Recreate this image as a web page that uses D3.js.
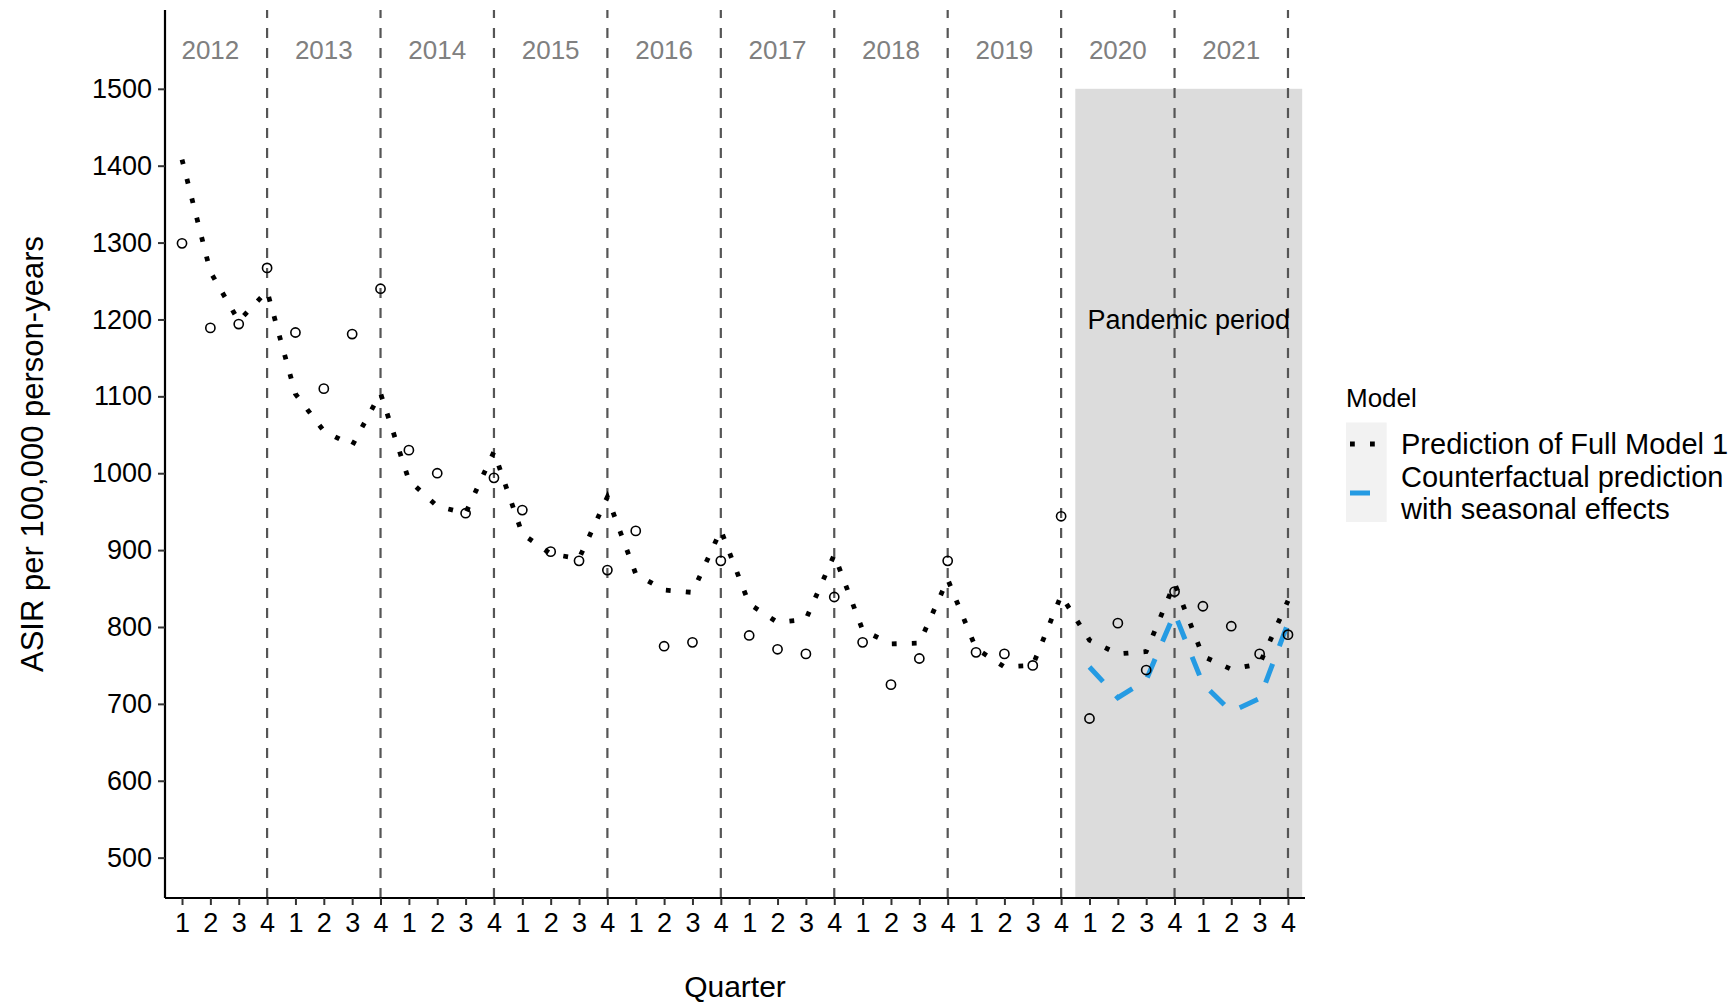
<!DOCTYPE html>
<html>
<head>
<meta charset="utf-8">
<script src="https://cdn.jsdelivr.net/npm/d3@7"></script>
<style>
  body { margin: 0; background: #ffffff; }
  text { font-family: 'Liberation Sans', Arial, sans-serif; }
</style>
</head>
<body>
<div id="chart"></div>
<script>
// Quarter index 1..40, labelled 1-4 within each year
const quarters = d3.range(1, 41);
const quarterLabels = ['1', '2', '3', '4'];
const years = ['2012', '2013', '2014', '2015', '2016', '2017', '2018', '2019', '2020', '2021'];
const yTicks = [500, 600, 700, 800, 900, 1000, 1100, 1200, 1300, 1400, 1500];

// Observed ASIR (open circles)
const observed = [1299, 1189, 1194, 1267, 1183, 1110, 1181, 1240,
  1030, 1000, 948, 994, 952, 898, 886, 874,
  925, 775, 780, 886, 789, 771, 765, 839,
  780, 725, 759, 886, 767, 765, 750, 944,
  681, 805, 744, 846, 827, 801, 765, 790];

// Prediction of Full Model 1 (dotted)
const fullModel = [1408, 1262, 1198, 1237, 1103, 1055, 1036, 1104,
  991, 957, 948, 1028, 921, 895, 889, 969,
  869, 848, 845, 926, 830, 806, 810, 894,
  796, 778, 779, 862, 772, 748, 750, 841,
  783, 765, 768, 857, 762, 745, 752, 834];

// Counterfactual prediction with seasonal effects, pandemic quarters 33..40
const cfQuarters = [33, 34, 35, 36, 37, 38, 39, 40];
const counterfactual = [748, 708, 731, 818, 726, 690, 707, 805];

const legendLabels = [['Prediction of Full Model 1'], ['Counterfactual prediction', 'with seasonal effects']];

const W = 1731, H = 1005;
const panel = { left: 165, right: 1305, top: 10, bottom: 898 };
const blue = '#259be3';

const svg = d3.select('#chart').append('svg')
  .attr('width', W).attr('height', H);

const x = d3.scaleLinear().domain([0.4, 40.6]).range([panel.left, panel.right]);
const y = d3.scaleLinear().domain([447.5, 1602.5]).range([panel.bottom, panel.top]);

// Pandemic period shading
svg.append('rect')
  .attr('x', x(32.5))
  .attr('y', y(1500))
  .attr('width', x(40.5) - x(32.5))
  .attr('height', panel.bottom - y(1500))
  .attr('fill', '#dcdcdc');

// Year separators
svg.selectAll('.year-line')
  .data(d3.range(1, 11).map((i) => i * 4))
  .enter().append('line')
  .attr('class', 'year-line')
  .attr('x1', (d) => x(d)).attr('x2', (d) => x(d))
  .attr('y1', panel.bottom).attr('y2', panel.top)
  .attr('stroke', '#555555')
  .attr('stroke-width', 2.2)
  .attr('stroke-dasharray', '10,10');

// Year labels
svg.selectAll('.year-label')
  .data(years)
  .enter().append('text')
  .attr('class', 'year-label')
  .attr('x', (d, i) => x(i * 4 + 2))
  .attr('y', y(1550))
  .attr('dy', '0.35em')
  .attr('text-anchor', 'middle')
  .attr('fill', '#808080')
  .style('font-size', '26px')
  .text((d) => d);

svg.append('text')
  .attr('x', x(36.5))
  .attr('y', y(1200))
  .attr('dy', '0.35em')
  .attr('text-anchor', 'middle')
  .style('font-size', '27px')
  .text('Pandemic period');

// Lines
const line = d3.line().x((d) => x(d[0])).y((d) => y(d[1]));

svg.append('path')
  .datum(quarters.map((q, i) => [q, fullModel[i]]))
  .attr('d', line)
  .attr('fill', 'none')
  .attr('stroke', '#000000')
  .attr('stroke-width', 4.8)
  .attr('stroke-dasharray', '4.8,15.2');

svg.append('path')
  .datum(cfQuarters.map((q, i) => [q, counterfactual[i]]))
  .attr('d', line)
  .attr('fill', 'none')
  .attr('stroke', blue)
  .attr('stroke-width', 5)
  .attr('stroke-dasharray', '20,19');

// Observed points
svg.selectAll('.obs')
  .data(observed)
  .enter().append('circle')
  .attr('class', 'obs')
  .attr('cx', (d, i) => x(quarters[i]))
  .attr('cy', (d) => y(d))
  .attr('r', 4.6)
  .attr('fill', 'none')
  .attr('stroke', '#000000')
  .attr('stroke-width', 1.6);

// Axes
const xAxis = d3.axisBottom(x)
  .tickValues(quarters)
  .tickFormat((d) => quarterLabels[(d - 1) % 4])
  .tickSize(7).tickPadding(8);
const yAxis = d3.axisLeft(y)
  .tickValues(yTicks)
  .tickFormat(d3.format('d'))
  .tickSize(7).tickPadding(6);

const gx = svg.append('g')
  .attr('transform', `translate(0,${panel.bottom})`)
  .call(xAxis);
const gy = svg.append('g')
  .attr('transform', `translate(${panel.left},0)`)
  .call(yAxis);

[gx, gy].forEach((g) => {
  g.select('.domain').attr('stroke', '#000').attr('stroke-width', 2.2);
  g.selectAll('.tick line').attr('stroke', '#333').attr('stroke-width', 2);
  g.selectAll('.tick text')
    .attr('fill', '#000')
    .style('font-size', '27px')
    .style('font-family', "'Liberation Sans', Arial, sans-serif");
});
gx.select('.domain').attr('d', `M${panel.left},0H${panel.right}`);
gy.select('.domain').attr('d', `M0,${panel.bottom}V${panel.top}`);

// Axis titles
svg.append('text')
  .attr('x', (panel.left + panel.right) / 2)
  .attr('y', 997)
  .attr('text-anchor', 'middle')
  .style('font-size', '30px')
  .text('Quarter');

svg.append('text')
  .attr('transform', `translate(43,${(panel.top + panel.bottom) / 2}) rotate(-90)`)
  .attr('text-anchor', 'middle')
  .style('font-size', '31px')
  .text('ASIR per 100,000 person-years');

// Legend
const legend = svg.append('g').attr('transform', 'translate(1346,0)');

legend.append('text')
  .attr('x', 0).attr('y', 407)
  .style('font-size', '26px')
  .text('Model');

legend.append('rect')
  .attr('x', 0).attr('y', 422.5)
  .attr('width', 40.7).attr('height', 99.5)
  .attr('fill', '#f2f2f2');

const keyY = [444, 493];
legend.append('line')
  .attr('x1', 4).attr('x2', 36)
  .attr('y1', keyY[0]).attr('y2', keyY[0])
  .attr('stroke', '#000')
  .attr('stroke-width', 4.8)
  .attr('stroke-dasharray', '4.8,15.2');
legend.append('line')
  .attr('x1', 4).attr('x2', 36)
  .attr('y1', keyY[1]).attr('y2', keyY[1])
  .attr('stroke', blue)
  .attr('stroke-width', 5)
  .attr('stroke-dasharray', '20,19');

legendLabels.forEach((lines, i) => {
  const t = legend.append('text')
    .attr('x', 55)
    .style('font-size', '29px');
  lines.forEach((s, j) => {
    t.append('tspan')
      .attr('x', 55)
      .attr('y', keyY[i] + (j - (lines.length - 1) / 2) * 31.5)
      .attr('dy', '0.35em')
      .text(s);
  });
});
</script>
</body>
</html>
